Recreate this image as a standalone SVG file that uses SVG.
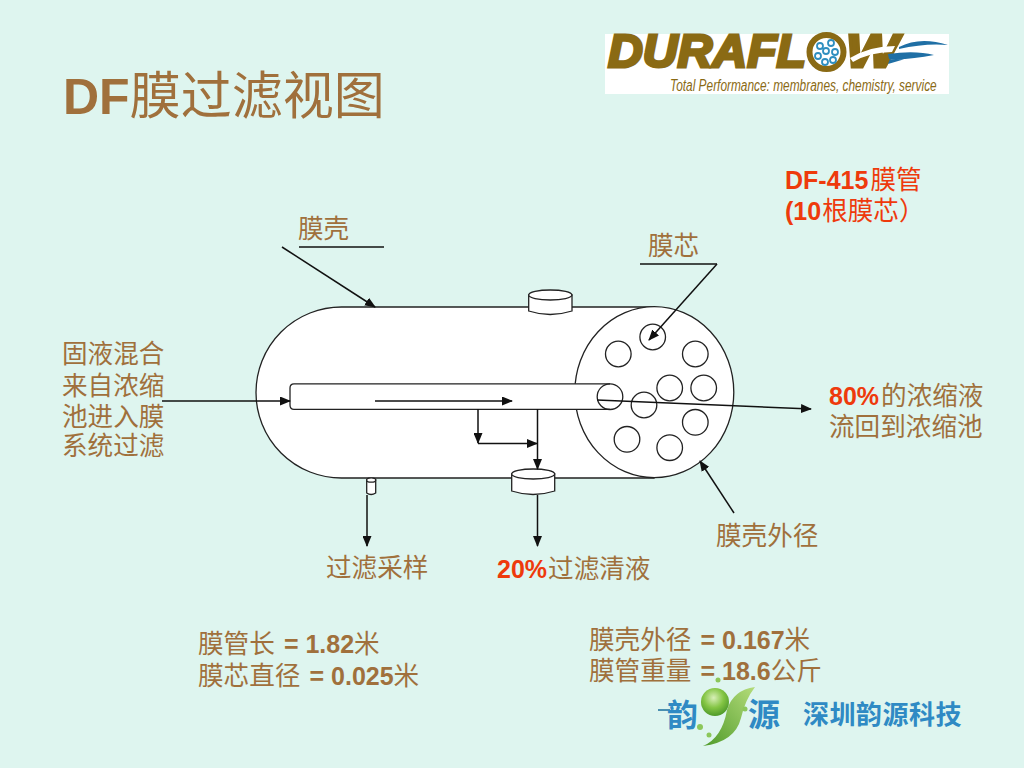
<svg xmlns="http://www.w3.org/2000/svg" width="1024" height="768" viewBox="0 0 1024 768">
<style>
text{font-family:"Liberation Sans","Noto Sans CJK SC",sans-serif;fill:#a0703c;font-size:25.6px}
.b{font-weight:bold;font-size:25px}
.r{fill:#ee3a0c}
.n{font-weight:normal;font-size:25.6px}
.s{fill:#fff;stroke:#222;stroke-width:1.3}
.l{fill:none;stroke:#111;stroke-width:1.5}
.h{fill:none;stroke:#111;stroke-width:1.5;marker-end:url(#a)}
.d{font-style:italic;font-weight:bold;font-size:47px;fill:#8a6a14;stroke:#8a6a14;stroke-width:3px}
.y{font-weight:bold;fill:#2f8ac4}
</style>
<defs>
<marker id="a" markerUnits="userSpaceOnUse" markerWidth="11" markerHeight="9" refX="10" refY="4.500" orient="auto"><path d="M0 0L11 4.500L0 9Z" fill="#111"/></marker>
<linearGradient id="leaf" x1="0" y1="1" x2="1" y2="0"><stop offset="0" stop-color="#4f9a2a"/><stop offset="1" stop-color="#b4dc7a"/></linearGradient>
<radialGradient id="ball" cx=".45" cy=".35" r=".65"><stop offset="0" stop-color="#d8efb8"/><stop offset=".55" stop-color="#84c544"/><stop offset="1" stop-color="#4f9a2a"/></radialGradient>
</defs>
<rect width="1024" height="768" fill="#def5ef"/>
<g id="title"><text x="63" y="114" style="font-size:51px"><tspan style="font-weight:bold;font-size:50px">DF</tspan>膜过滤视图</text></g>
<g id="duraflow-logo">
<rect x="605" y="34" width="344" height="60" fill="#fff"/>
<text x="608" y="67" class="d" textLength="198" lengthAdjust="spacingAndGlyphs">DURAFL</text>
<circle cx="826.500" cy="52" r="17" fill="#fff" stroke="#8a6a14" stroke-width="6"/>
<g fill="none" stroke="#2f8fc0" stroke-width="1.800"><circle cx="831" cy="43" r="3"/><circle cx="820" cy="46" r="3"/><circle cx="835" cy="52" r="3"/><circle cx="826" cy="51" r="3"/><circle cx="818" cy="56" r="3"/><circle cx="833" cy="60" r="3"/><circle cx="825" cy="62" r="3"/></g>
<text x="846" y="67" class="d" textLength="52" lengthAdjust="spacingAndGlyphs">W</text>
<path d="M850 58Q870 46 895 46L892 52Q870 52 853 62Z" fill="#fff"/>
<path d="M899 47Q920 36 948 45Q925 43 899 49ZM888 54Q915 50 934 55Q910 60 889 59ZM890 59H905L888 64Z" fill="#1f6fa5"/>
<text transform="translate(670 91) scale(.7 1)" textLength="381" lengthAdjust="spacingAndGlyphs" style="font-size:17px;font-style:italic;fill:#8a6a14">Total Performance: membranes, chemistry, service</text>
</g>
<g id="vessel">
<path class="s" d="M341.500 307H654V478H341.500A85.500 85.500 0 0 1 341.500 307Z"/>
</g>
<g id="top-port"><path class="s" d="M528.700 295V311Q550 318 572 311V295Z"/><ellipse class="s" cx="550.300" cy="295" rx="21.600" ry="5"/></g>
<g id="end-plate"><ellipse class="s" cx="654.300" cy="392.200" rx="79.500" ry="85.500"/></g>
<g id="tube"><path class="s" d="M610 383.800H294Q290 383.800 290 388V405Q290 409.400 294 409.400H610"/></g>
<g id="bottom-port"><path class="s" d="M511.700 474V491Q533 498 554.700 491V474Z"/><ellipse class="s" cx="533.200" cy="474" rx="21.500" ry="5"/></g>
<g id="sample-port"><path class="s" d="M366.700 480V493Q371 496 375.700 493V480Z"/><ellipse class="s" cx="371.200" cy="480" rx="4.500" ry="2.200"/></g>
<g id="cores" fill="none" stroke="#222" stroke-width="1.300">
<circle cx="652.700" cy="337" r="12.800"/><circle cx="618.300" cy="354" r="12.800"/><circle cx="695.300" cy="354" r="12.800"/><circle cx="669.700" cy="388" r="12.800"/><circle cx="703.700" cy="388" r="12.800"/><circle cx="610" cy="396.700" r="12.800"/><circle cx="644" cy="405" r="12.800"/><circle cx="695.300" cy="422.300" r="12.800"/><circle cx="627" cy="439.300" r="12.800"/><circle cx="669.700" cy="447.700" r="12.800"/>
</g>
<g id="connectors">
<path class="l" d="M299 247H384"/>
<path class="h" d="M282 247L375 307"/>
<path class="l" d="M640 264H717"/>
<path class="h" d="M717 264L649 340"/>
<path class="h" d="M162 401H290"/>
<path class="h" d="M375 401H512"/>
<path class="h" d="M597 400L811 409"/>
<path class="h" d="M478 409V443"/>
<path class="h" d="M478 443.500H537"/>
<path class="h" d="M537.500 409V469"/>
<path class="h" d="M367 495V546"/>
<path class="h" d="M537.500 495V546"/>
<path class="h" d="M734 513L700 461"/>
</g>
<g id="labels">
<text x="298" y="238">膜壳</text>
<text x="648" y="255">膜芯</text>
<text x="785" y="189" class="r b">DF-415<tspan class="n" dx="2">膜管</tspan></text>
<text x="785" y="220" class="r b">(10<tspan class="n" dx="1">根膜芯）</tspan></text>
<text x="62" y="363">固液混合</text>
<text x="62" y="395">来自浓缩</text>
<text x="62" y="426">池进入膜</text>
<text x="62" y="455">系统过滤</text>
<text x="829" y="405"><tspan class="r b">80%</tspan><tspan dx="2">的浓缩液</tspan></text>
<text x="829" y="436">流回到浓缩池</text>
<text x="716" y="545">膜壳外径</text>
<text x="326" y="577">过滤采样</text>
<text x="497" y="578"><tspan class="r b">20%</tspan><tspan dx="1">过滤清液</tspan></text>
<text x="198" y="653">膜管长 <tspan class="b" dx="2">= 1.82</tspan>米</text>
<text x="198" y="685">膜芯直径 <tspan class="b" dx="2">= 0.025</tspan>米</text>
<text x="589" y="649">膜壳外径 <tspan class="b" dx="2">= 0.167</tspan>米</text>
<text x="589" y="680">膜管重量 <tspan class="b" dx="2">= 18.6</tspan>公斤</text>
</g>
<g id="yunyuan-logo">
<path d="M658 710H670" stroke="#4a8fb0" stroke-width="2"/>
<text x="667" y="726" class="y" style="font-size:31px">韵</text>
<text x="748" y="726" class="y" style="font-size:32px">源</text>
<path d="M703 746Q722 738 727 710Q733 690 755 687Q745 700 741 718Q735 742 703 746Z" fill="url(#leaf)"/>
<circle cx="715" cy="702" r="14" fill="url(#ball)"/>
<g fill="#8cc75a"><circle cx="700" cy="727" r="3"/><circle cx="709" cy="735" r="2.500"/><circle cx="745" cy="709" r="2.500"/><circle cx="718" cy="680" r="2.500"/></g>
<text x="803" y="724" class="y" style="font-size:26px;letter-spacing:.5px">深圳韵源科技</text>
</g>
</svg>
